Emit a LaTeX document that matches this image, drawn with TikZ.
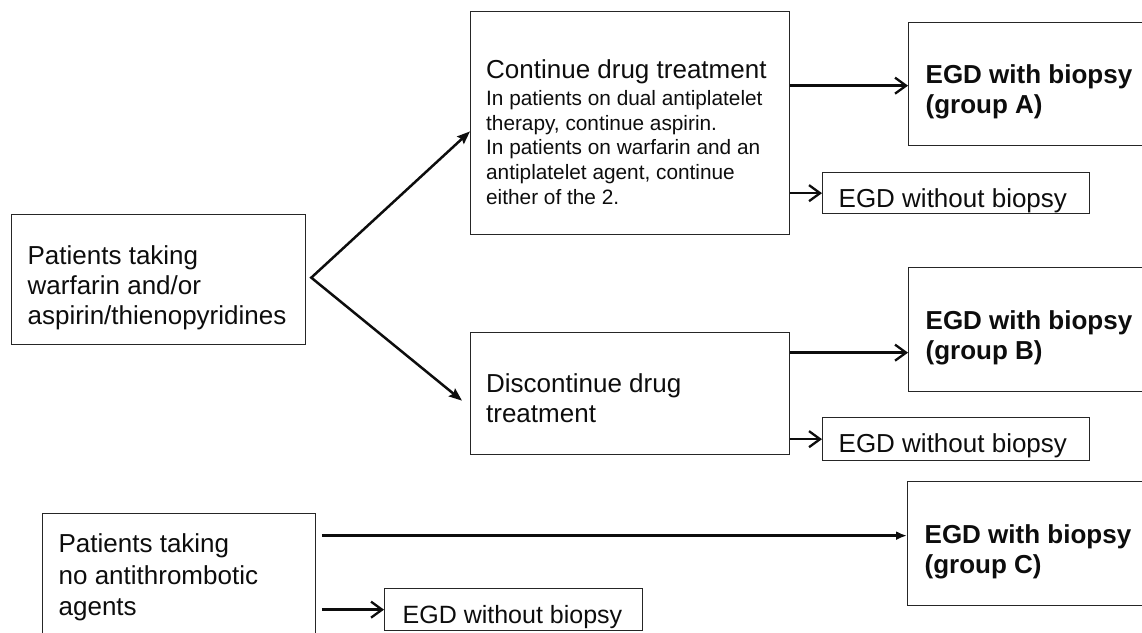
\documentclass[tikz,border=0pt]{standalone}
\usepackage{fontspec}
\setmainfont{Liberation Sans}
\usetikzlibrary{arrows.meta}
\newcommand{\myTop}[1]{\spaceskip=0pt\xspaceskip=0pt\relax\rule{0pt}{#1pt}}
\newcommand{\myBot}[1]{\rule[-#1pt]{0pt}{#1pt}\par}
\tikzset{
  box/.style={draw=black!85, line width=1.3pt, anchor=north west, align=left,
    inner ysep=0pt, text=black!95, font=\fontsize{26}{30}\selectfont},
  boldbox/.style={box, font=\bfseries\fontsize{26}{30}\selectfont},
  barb/.style={draw=black!95, line width=2.5pt, -{Straight Barb[length=11pt,width=16pt,line width=2.3pt]}},
  diag/.style={draw=black!95, line width=2.5pt, {Stealth[length=13pt,width=10pt,inset=2pt]}-{Stealth[length=13pt,width=10pt,inset=2pt]}},
  solidarrow/.style={draw=black!95, line width=2.5pt, -{Latex[length=11pt,width=9pt]}},
}
\begin{document}
\begin{tikzpicture}[x=1pt,y=-1pt]
\useasboundingbox (0,0) rectangle (1142,632);
\clip (0,0) rectangle (1142,632);

% left column
\node[box, text width=262pt, inner xsep=16pt] (pt) at (11,214)
  {\myTop{50}Patients taking\\warfarin and/or\\\mbox{aspirin/thienopyridines}\myBot{20}};
\node[box, text width=241pt, inner xsep=16pt, font=\fontsize{26}{31.5}\selectfont] (nat) at (42,513)
  {\myTop{39}Patients taking\\no antithrombotic\\agents\myBot{30}};

% middle column
\node[box, text width=288pt, inner xsep=15.5pt] (cont) at (470,11)
  {\myTop{67}\mbox{Continue drug treatment}\\[2.5pt]\fontsize{20.8}{24.6}\selectfont
   \mbox{In patients on dual antiplatelet}\\\mbox{therapy, continue aspirin.}\\\mbox{In patients on warfarin and an}\\\mbox{antiplatelet agent, continue}\\\mbox{either of the 2.}\myBot{30}};
\node[box, text width=288pt, inner xsep=15.5pt] (disc) at (470,332)
  {\myTop{60}Discontinue drug\\treatment\myBot{32}};
\node[box, text width=222pt, inner xsep=18pt, font=\fontsize{25}{30}\selectfont] (nc) at (384,588)
  {\myTop{35}\mbox{EGD without biopsy}\myBot{7}};

% right column
\node[boldbox, text width=238pt, inner xsep=17pt] (ga) at (908,22)
  {\myTop{61}EGD with biopsy\\(group A)\myBot{32}};
\node[box, text width=235pt, inner xsep=16pt] (na) at (822,172)
  {\myTop{35}\mbox{EGD without biopsy}\myBot{6}};
\node[boldbox, text width=238pt, inner xsep=17pt] (gb) at (908,267)
  {\myTop{62}EGD with biopsy\\(group B)\myBot{32}};
\node[box, text width=235pt, inner xsep=16pt] (nb) at (822,417)
  {\myTop{35}\mbox{EGD without biopsy}\myBot{8}};
\node[boldbox, text width=238pt, inner xsep=17pt] (gc) at (907,481)
  {\myTop{62}EGD with biopsy\\(group C)\myBot{32}};

% connectors
\coordinate (apex) at ([xshift=5pt,yshift=2pt]pt.east);
\draw[diag] ([yshift=-8.5pt]cont.west) -- (apex) -- ([xshift=-8pt,yshift=-7pt]disc.west);

\coordinate (gaIn) at ([yshift=-1.5pt]ga.west);
\draw[barb] (cont.east |- gaIn) -- (gaIn);
\draw[barb] (cont.east |- na.west) -- (na.west);

\coordinate (gbIn) at ([yshift=-23pt]gb.west);
\draw[barb] (disc.east |- gbIn) -- (gbIn);
\draw[barb] (disc.east |- nb.west) -- (nb.west);

\coordinate (natR) at ([xshift=5.5pt]nat.east);
\coordinate (gcIn) at ([yshift=8pt]gc.west);
\draw[solidarrow] (natR |- gcIn) -- (gcIn);
\draw[barb] (natR |- nc.west) -- (nc.west);
\end{tikzpicture}
\end{document}
